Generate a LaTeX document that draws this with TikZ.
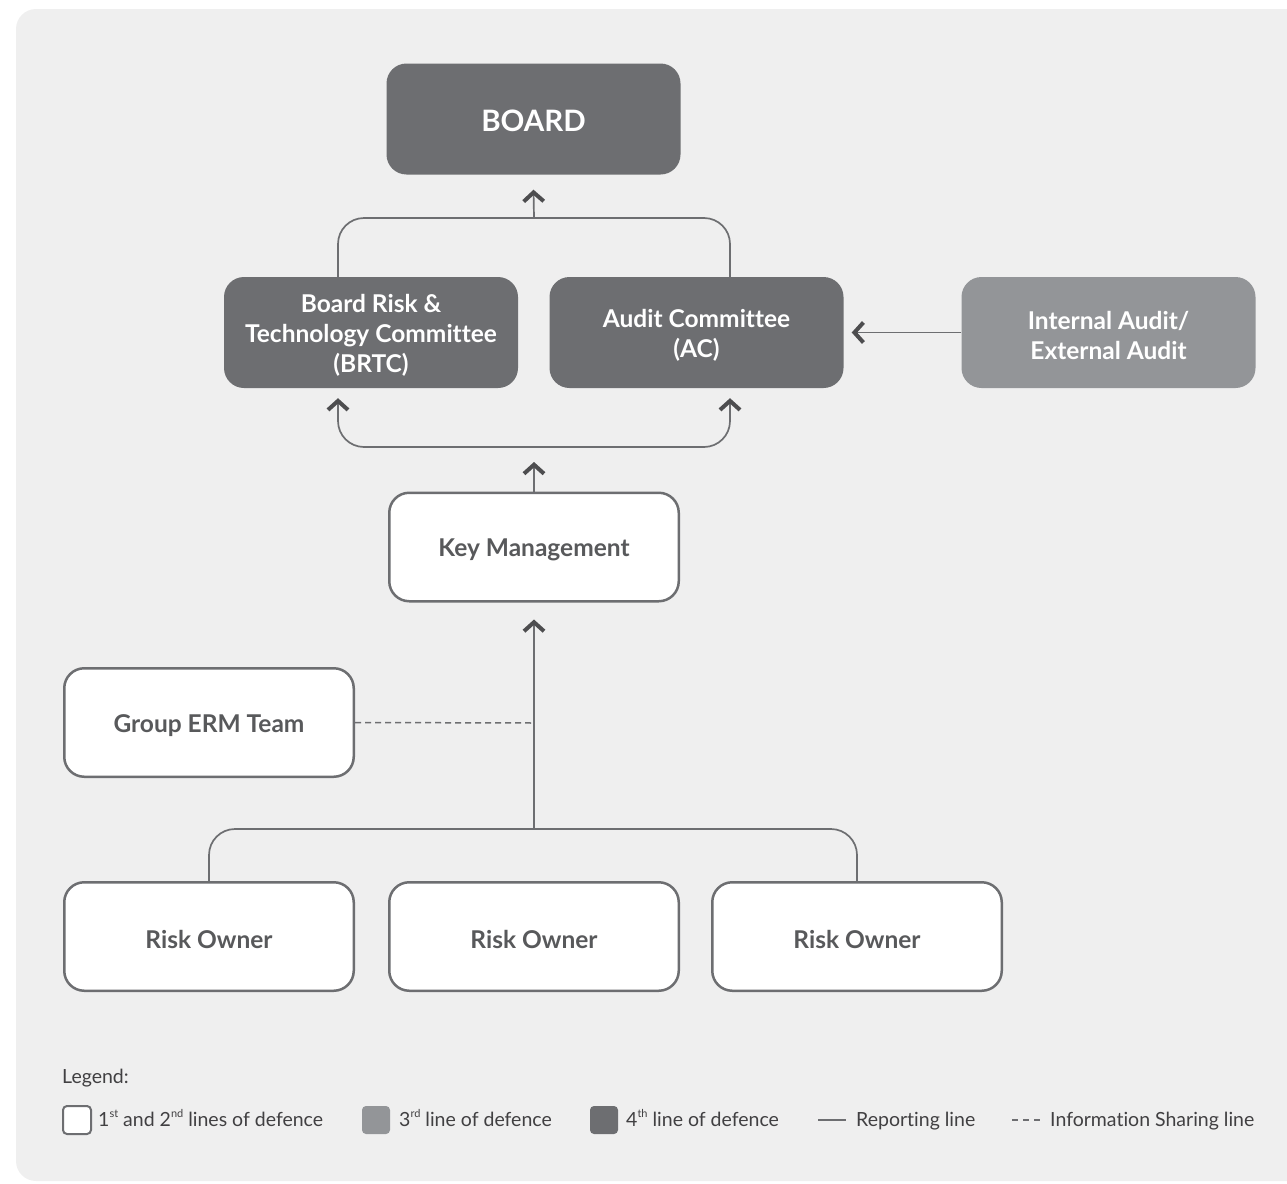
\documentclass[tikz,border=0pt]{standalone}
\usepackage{fontspec}
\setmainfont{Lato}[Ligatures=NoCommon]
\usetikzlibrary{arrows.meta,calc}
\definecolor{panel}{HTML}{EFEFEF}
\definecolor{dark}{HTML}{6D6E71}
\definecolor{mid}{HTML}{939598}
\definecolor{boxtxt}{HTML}{58595B}
\definecolor{legtxt}{HTML}{414042}
\definecolor{linec}{HTML}{6D6E71}
\definecolor{tipc}{HTML}{4D4D4F}
\newcommand\mysup[1]{\raisebox{0.42em}{\fontsize{11}{11}\selectfont #1}}
\begin{document}
\begin{tikzpicture}[x=1pt,y=-1pt,
  boxlabel/.style={align=center, font=\fontsize{24.5}{30}\selectfont\bfseries, inner sep=0pt, yshift=-3pt},
  box/.style={rounded corners=20pt, minimum width=294pt, minimum height=111pt, inner sep=0pt},
  fourth/.style={box, fill=dark, label={[boxlabel, text=white]center:{#1}}},
  third/.style={box, fill=mid, label={[boxlabel, text=white]center:{#1}}},
  firstbox/.style={box, fill=white, draw=dark, line width=2.5pt,
    minimum width=289.5pt, minimum height=108.5pt, label={[boxlabel, text=boxtxt]center:{#1}}},
  conn/.style={draw=linec, line width=1.7pt},
  chev/.tip={Straight Barb[length=9pt,width=20pt,line width=4pt,color=tipc]},
  arr/.style={conn, -chev},
  darr/.style={conn, chev-chev},
  info/.style={draw=linec, line width=1.5pt, dash pattern=on 6pt off 4pt},
  legtext/.style={text=legtxt, font=\fontsize{19.5}{22}\selectfont, inner sep=0pt, anchor=base west},
  sq/.style={minimum width=28pt, minimum height=28pt, inner sep=0pt, rounded corners=4pt}
]
\useasboundingbox (0,0) rectangle (1287,1183);
\fill[panel, rounded corners=20pt] (16,9) rectangle (1330,1181);

% boxes
\node[box, fill=dark, label={[boxlabel, text=white, font=\fontsize{29.5}{34}\selectfont\bfseries, yshift=1.5pt]center:BOARD}] (board) at (533.5,119) {};
\node[fourth={Board Risk \&\\Technology Committee\\(BRTC)}] (brtc) at (371,332.5) {};
\node[fourth={Audit Committee\\(AC)}] (ac) at (696.5,332.5) {};
\node[third={Internal Audit/\\External Audit}] (ia) at (1108.5,332.5) {};
\node[firstbox={Key Management}] (km) at (534,547) {};
\node[firstbox={Group ERM Team}] (erm) at (209,722.5) {};
\node[firstbox={Risk Owner}] (ro1) at (209,936.5) {};
\node[firstbox={Risk Owner}] (ro2) at (534,936.5) {};
\node[firstbox={Risk Owner}] (ro3) at (857,936.5) {};

% hubs
\coordinate (tophub) at (534,218);
\coordinate (midhub) at (534,447);
\coordinate (lowhub) at (534,829);
\coordinate (ermend) at (534,723);

% committees to board
\draw[conn, rounded corners=26pt] ([xshift=-33pt]brtc.north) |- (tophub) -| ([xshift=33.5pt]ac.north);
\draw[arr] (tophub) -- ([yshift=-15pt]board.south);

% key management to committees
\draw[darr, rounded corners=26pt] ([xshift=-33pt,yshift=-10pt]brtc.south) |- (midhub) -| ([xshift=33.5pt,yshift=-10pt]ac.south);
\draw[arr] (km.north) -- ([yshift=-15pt]midhub);

% risk owners to key management
\draw[conn, rounded corners=26pt] (ro1.north) |- (lowhub) -| (ro3.north);
\draw[arr] (lowhub) -- ([yshift=-17pt]km.south);

% group ERM information sharing
\draw[info] (erm.east) -- (ermend);

% internal audit to AC
\draw[arr] (ia.west) -- ([xshift=8pt]ac.east);

% legend
\node[legtext] (lg) at (62,1083) {Legend:};
\node[sq, fill=white, draw=dark, line width=2pt] (s1) at (77,1120) {};
\node[legtext] (t1) at (98,1126) {1\mysup{st} and 2\mysup{nd} lines of defence};
\node[sq, fill=mid] (s2) at (376,1120) {};
\node[legtext] (t2) at (399,1126) {3\mysup{rd} line of defence};
\node[sq, fill=dark] (s3) at (604,1120) {};
\node[legtext] (t3) at (626,1126) {4\mysup{th} line of defence};
\coordinate (r1) at (818,1120);
\coordinate (r2) at (846,1120);
\draw[draw=dark, line width=1.5pt] (r1) -- (r2);
\node[legtext] (t4) at (856,1126) {Reporting line};
\coordinate (d1) at (1012,1120);
\coordinate (d2) at (1043,1120);
\draw[draw=dark, line width=1.5pt, dash pattern=on 6pt off 5pt] (d1) -- (d2);
\node[legtext] (t5) at (1050,1126) {Information Sharing line};
\end{tikzpicture}
\end{document}
